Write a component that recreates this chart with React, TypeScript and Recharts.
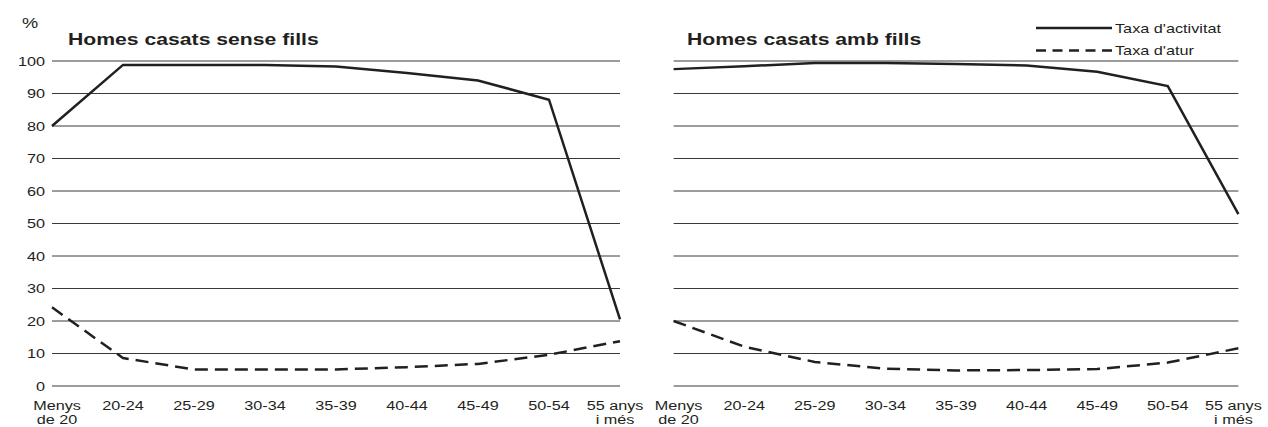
import { CartesianGrid, Line, LineChart, XAxis, YAxis } from "recharts";

const categories = ["Menys de 20", "20-24", "25-29", "30-34", "35-39", "40-44", "45-49", "50-54", "55 anys i més"];
const tickLines = [["Menys", "de 20"], ["20-24"], ["25-29"], ["30-34"], ["35-39"], ["40-44"], ["45-49"], ["50-54"], ["55 anys", "i més"]];
const yTicks = [0, 10, 20, 30, 40, 50, 60, 70, 80, 90, 100];

// Homes casats sense fills
const senseFillsActivitat = [80, 98.8, 98.8, 98.8, 98.3, 96.3, 94.0, 88.1, 20.5];
const senseFillsAtur = [24.2, 8.6, 5.1, 5.1, 5.1, 5.8, 6.8, 9.6, 13.8];
// Homes casats amb fills
const ambFillsActivitat = [97.5, 98.4, 99.4, 99.4, 99.1, 98.6, 96.7, 92.3, 52.9];
const ambFillsAtur = [20.0, 12.1, 7.4, 5.3, 4.8, 4.9, 5.2, 7.2, 11.6];

const INK = "#231f20";
const FONT = '"Liberation Sans", Arial, Helvetica, sans-serif';
const TICK_SIZE = 12.5;

function SText({ x, y, size, anchor = "start", weight = 400, stretch = 1.3, children }: any) {
  return (
    <g transform={`translate(${x},${y}) scale(${stretch},1)`}>
      <text x={0} y={0} textAnchor={anchor} fontSize={size} fontWeight={weight} fontFamily={FONT} fill={INK}>
        {children}
      </text>
    </g>
  );
}

function YTick({ x, y, payload, show }: any) {
  if (!show) return <g />;
  return (
    <SText x={x} y={y + TICK_SIZE * 0.36} size={TICK_SIZE} anchor="end">
      {payload.value}
    </SText>
  );
}

function XTick({ x, y, index }: any) {
  const lines = tickLines[index] ?? [];
  const shift = index === 0 ? 5 : index === categories.length - 1 ? -5 : 0;
  return (
    <g>
      {lines.map((line, i) => (
        <SText key={i} x={x + shift} y={y + 24 + i * 14} size={13.5} stretch={1.2} anchor="middle">
          {line}
        </SText>
      ))}
    </g>
  );
}

function Panel({ left, width, plotLeft, plotRight, activitat, atur, showY }: any) {
  const data = categories.map((cat, i) => ({ cat, activitat: activitat[i], atur: atur[i] }));
  return (
    <div style={{ position: "absolute", left, top: 0, width, height: 427 }}>
      <LineChart width={width} height={427} data={data} margin={{ top: 61, right: width - plotRight, bottom: 0, left: 0 }}>
        <CartesianGrid vertical={false} stroke="#3a3a3a" strokeWidth={1} />
        <XAxis
          dataKey="cat"
          height={41}
          axisLine={false}
          tickLine={false}
          tickSize={0}
          tickMargin={0}
          interval={0}
          tick={<XTick />}
        />
        <YAxis
          width={plotLeft}
          domain={[0, 100]}
          ticks={yTicks}
          axisLine={false}
          tickLine={false}
          tickSize={0}
          tickMargin={7}
          tick={<YTick show={showY} />}
        />
        <Line type="linear" dataKey="activitat" stroke={INK} strokeWidth={2.5} dot={false} isAnimationActive={false} />
        <Line
          type="linear"
          dataKey="atur"
          stroke={INK}
          strokeWidth={2.5}
          strokeDasharray="13 7"
          dot={false}
          isAnimationActive={false}
        />
      </LineChart>
    </div>
  );
}

export default function App() {
  return (
    <div style={{ position: "absolute", left: 0, top: 0, width: 1268, height: 427, background: "#fff" }}>
      <Panel left={620} width={648} plotLeft={53.6} plotRight={618.4} activitat={ambFillsActivitat} atur={ambFillsAtur} showY={false} />
      <Panel left={0} width={660} plotLeft={52} plotRight={620} activitat={senseFillsActivitat} atur={senseFillsAtur} showY />
      <svg width={1268} height={427} style={{ position: "absolute", left: 0, top: 0, pointerEvents: "none" }}>
        <SText x={22} y={28} size={14}>%</SText>
        <SText x={68} y={45} size={16.3} weight={700}>Homes casats sense fills</SText>
        <SText x={687} y={45} size={16.3} weight={700}>Homes casats amb fills</SText>
        <line x1={1036} x2={1112} y1={28} y2={28} stroke={INK} strokeWidth={2.5} />
        <SText x={1115} y={32.5} size={TICK_SIZE}>Taxa d'activitat</SText>
        <line x1={1036} x2={1112} y1={50.5} y2={50.5} stroke={INK} strokeWidth={2.5} strokeDasharray="10 6.5" />
        <SText x={1115} y={55} size={TICK_SIZE}>Taxa d'atur</SText>
      </svg>
    </div>
  );
}
